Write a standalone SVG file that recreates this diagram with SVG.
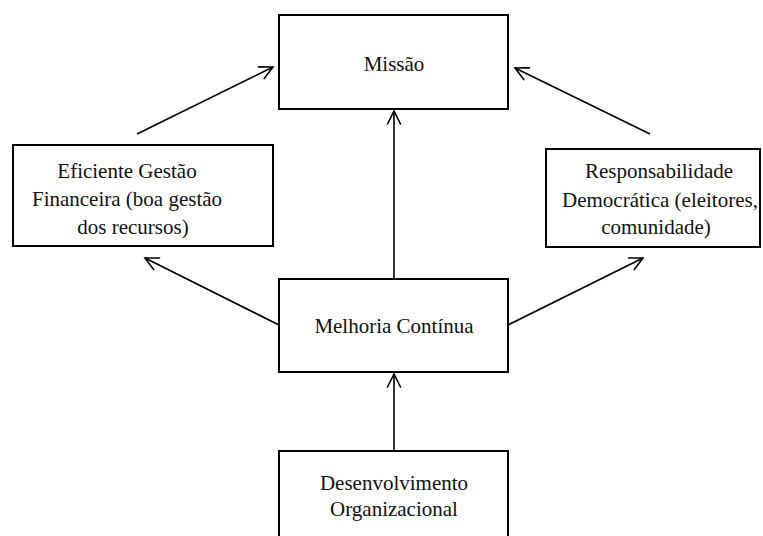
<svg xmlns="http://www.w3.org/2000/svg" width="763" height="536" viewBox="0 0 763 536">
  <style>
    .box { fill: #ffffff; stroke: #000000; stroke-width: 2; }
    .lbl { font-family: "Liberation Serif", "Times New Roman", serif; font-size: 21px; fill: #111111; text-anchor: middle; }
    .conn { fill: none; stroke: #000000; stroke-width: 1.6; marker-end: url(#open); }
  </style>
  <defs>
    <marker id="open" markerUnits="userSpaceOnUse" viewBox="-16 -10 20 20" refX="0" refY="0" markerWidth="20" markerHeight="20" orient="auto" overflow="visible">
      <path d="M-13,-6.5 L0,0 L-13,6.5" fill="none" stroke="#000000" stroke-width="1.6" stroke-linecap="round" stroke-linejoin="miter"/>
    </marker>
  </defs>

  <rect x="0" y="0" width="763" height="536" fill="#ffffff"/>

  <g id="connectors">
    <line class="conn" x1="137" y1="134" x2="273" y2="67"/>
    <line class="conn" x1="650" y1="134" x2="515" y2="68"/>
    <line class="conn" x1="394" y1="279" x2="394" y2="111"/>
    <line class="conn" x1="394" y1="451" x2="394" y2="374"/>
    <line class="conn" x1="279" y1="325" x2="145" y2="258"/>
    <line class="conn" x1="508" y1="325" x2="643" y2="258"/>
  </g>

  <g id="missao">
    <rect class="box" x="279" y="15" width="229" height="94"/>
    <text class="lbl" x="394" y="71">Missão</text>
  </g>

  <g id="gestao-financeira">
    <rect class="box" x="13" y="145" width="260" height="101"/>
    <text class="lbl" x="127" y="178">Eficiente Gestão</text>
    <text class="lbl" x="127" y="206">Financeira (boa gestão</text>
    <text class="lbl" x="133" y="234">dos recursos)</text>
  </g>

  <g id="responsabilidade">
    <rect class="box" x="546" y="149" width="214" height="98"/>
    <text class="lbl" x="659" y="178">Responsabilidade</text>
    <text class="lbl" x="660" y="207">Democrática (eleitores,</text>
    <text class="lbl" x="656" y="234">comunidade)</text>
  </g>

  <g id="melhoria">
    <rect class="box" x="279" y="279" width="229" height="93"/>
    <text class="lbl" x="394" y="333">Melhoria Contínua</text>
  </g>

  <g id="desenvolvimento">
    <rect class="box" x="279" y="451" width="229" height="100"/>
    <text class="lbl" x="394" y="490">Desenvolvimento</text>
    <text class="lbl" x="394" y="516">Organizacional</text>
  </g>
</svg>
